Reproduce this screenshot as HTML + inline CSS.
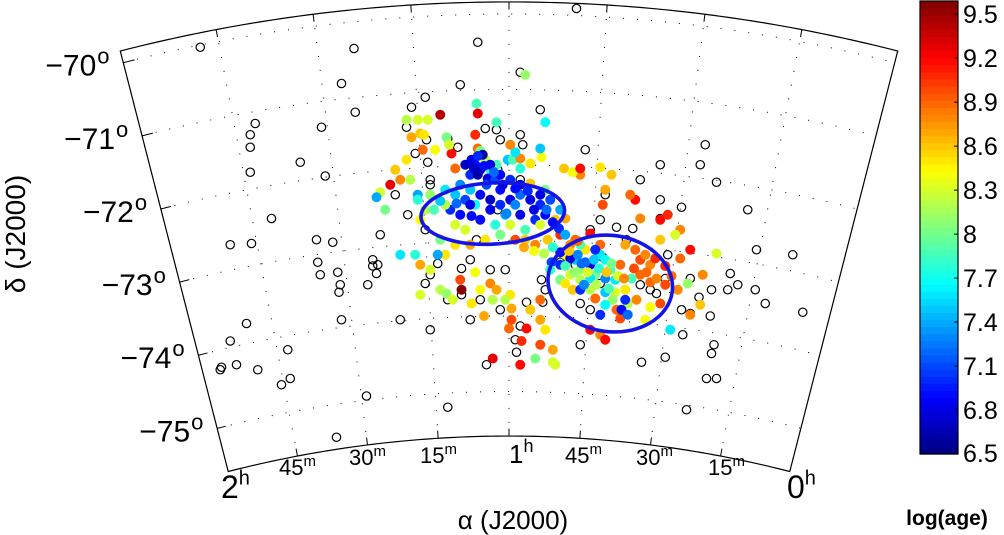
<!DOCTYPE html>
<html><head><meta charset="utf-8">
<style>
html,body{margin:0;padding:0;background:#fff;}
svg{display:block;font-family:"Liberation Sans",sans-serif;}
</style></head>
<body>
<svg id="chart" width="1004" height="535" viewBox="0 0 1004 535" xmlns="http://www.w3.org/2000/svg">
<rect width="1004" height="535" fill="#fff"/>
<g id="grid"></g>
<g id="frame"></g>
<g id="open"></g>
<g id="filled"></g>
<g id="ellipses"></g>
<g id="labels"></g>
<g id="cbar"></g>
</svg>
<script>
// ---- data: offsets in arcmin from field centre (xi east-west, eta north-south) ----
const openXi=[-247,-124,54,-25,-134,-123,-203,-207,-207,-207,-167,-150,-147,-190,-206,-223,-154,-141,-153,-137,-109,-109,-106,-113,-135,-136,-151,-134,-87,-210,-223,-218,-230,-231,-201,-177,-175,-182,-138,-114,-49,-18,9,-78,-67,-39,-7,9,25,11,-9,-39,-81,-67,-26,61,77,65,99,105,121,138,153,157,166,191,198,227,183,127,125,145,152,162,177,175,197,205,138,145,118,113,93,105,75,41,53,73,57,125,139,161,162,164,158,166,142,106,235,-31,-23,-7,5,9,6,-3,-15,-31,-38,-38,-67,-63,-57,-49,-63,14,29,26,27,57,65,-91,-103,-105,-63,-49,-66,-82,-75,-65,-63,-41,-19,-10,-9,9,41,73,121,86,94,121];
const openEta=[135,134,166,139,106,83,74,65,55,35,43,71,32,-2,-22,-23,-19,-21,-37,-45,-35,-40,-46,-55,-55,-61,-47,-83,-83,-86,-100,-119,-121,-123,-123,-107,-130,-135,-177,-144,-153,-119,115,87,95,105,61,65,85,57,5,1,1,-11,-19,53,17,-11,-10,29,13,7,41,57,27,5,-27,-31,-55,-31,-50,-50,-65,-59,-46,-59,-59,-70,-75,-78,-62,-59,-59,-55,-33,-37,-39,-54,-103,-113,-95,-80,-110,-103,-130,-130,-155,-117,-77,-83,-67,-75,-99,-88,-109,-43,-43,-35,-42,-63,-54,-47,-38,-67,-91,-69,-59,-51,-69,-70,-75,17,-15,-39,25,62,61,71,50,43,29,55,70,69,37,29,5,-3,41,-9,-19,-2];
const ageXi=[-82,-73,-65,-78,-71,-68,-50,-59,-69,-46,-43,-31,-25,-27,-25,-10,29,13,-26,-48,-23,-19,-15,-10,-1,3,26,9,17,25,17,44,9,5,1,
-27,-23,-15,-31,-17,-11,-7,1,9,-39,-31,-23,-15,-7,1,9,17,25,33,29,21,9,-3,-15,-27,-35,-43,-51,-47,-23,-11,1,13,25,37,41,29,-51,-43,-35,-63,-67,-71,-73,-73,-19,-7,5,13,21,31,41,53,-31,-43,-51,-55,-57,-75,-87,-71,-63,-55,-39,-27,-23,-15,-10,-13,1,2,2,17,25,29,14,25,-38,-50,-3,
41,45,53,57,65,73,69,77,61,49,49,41,81,89,85,73,93,101,105,109,113,117,105,98,113,93,85,77,69,65,51,45,57,83,89,86,77,73,95,102,113,109,121,125,135,143,145,153,155,137,137,121,105,101,75,77,57,51,57,73,82,127,145,166,121,133,129,73,65,77,35,25,9,-13,21,37,-45,-71,-95,-103,-106,-99,-87,-91,-79,-82,-55,35,65,45,97,
49,61,69,55,65,41,34,33,57,77,57,93,90,95,-25,-7,5,-31,-39,25,-35,-21,
-30,-25,-20,-28,-12,-18,-5,5,15,20,-2,-30,-42,-55,-60,30,35,40,45,35,28,20,12,
45,52,58,63,68,72,78,82,87,60,70,80,92,100,110,118,125,130,48,55,0,10,-20,-30];
const ageEta=[77,77,77,63,66,65,63,53,53,50,38,42,54,65,82,75,75,113,90,57,52,45,37,41,45,45,47,38,42,54,26,38,46,51,57,
41,37,41,33,30,29,33,29,25,25,21,17,13,9,13,17,13,9,13,1,-3,1,1,5,9,13,17,21,5,-3,-7,-7,-11,-7,-3,5,21,9,-7,-11,17,5,-3,17,13,-19,-15,-19,-19,-23,-19,-15,-19,-23,-23,-31,-19,-31,-31,-31,-39,-43,-59,-51,-45,-59,-54,-59,-67,-63,-74,-83,-75,-83,-91,-90,-67,-59,-62,-67,
-39,-31,-35,-43,-39,-31,-47,-35,-27,-23,-47,-51,-43,-39,-51,-23,-23,-27,-35,-31,-39,-34,-47,-50,-53,-59,-61,-61,-66,-59,-59,-54,-51,-67,-82,-75,-71,-79,-70,-67,-73,-83,-70,-55,-59,-54,-79,-71,-47,-34,-11,-3,-2,13,9,21,33,35,38,39,33,1,-27,-30,-19,-15,-91,-95,-91,-99,-107,-103,-119,-114,-114,-119,-67,-63,25,19,15,5,29,37,29,45,81,-117,-14,-2,17,
-34,-37,-27,-31,-50,-29,-37,-43,-23,-50,-59,-67,-75,-79,33,21,9,9,1,17,41,49,
45,48,40,38,35,25,25,22,20,5,2,0,10,12,5,5,-5,-10,-15,-25,-30,-28,-25,
-40,-45,-38,-45,-35,-42,-45,-38,-48,-55,-55,-58,-50,-42,-45,-50,-40,-48,-28,-20,-90,-100,-80,-70];
const logAge=[8.2,8.3,8.3,8.7,8.6,8.5,8.0,8.4,8.9,9.2,8.9,8.3,8.9,9.1,9.3,7.9,7.7,8.1,7.9,8.3,8.0,8.2,7.8,7.9,7.5,7.9,8.4,7.8,8.5,7.5,8.6,8.6,8.8,7.6,8.8,
6.9,6.7,6.8,7.0,6.8,7.1,6.9,7.0,6.8,7.3,7.5,6.9,6.7,7.0,6.8,7.2,6.8,7.0,7.1,6.9,7.0,6.8,7.4,6.8,7.7,7.1,7.5,7.6,7.0,6.9,7.8,8.3,7.9,8.3,8.6,7.4,8.0,8.2,8.3,8.3,8.1,8.2,8.4,7.4,7.8,8.5,8.0,9.0,8.6,8.8,8.6,9.1,8.9,8.7,8.5,8.5,8.0,7.4,7.8,7.6,8.7,8.3,8.2,9.0,8.4,8.4,8.8,8.7,8.2,8.5,8.7,9.0,8.6,8.7,8.5,9.2,8.9,9.7,8.1,8.2,
7.0,8.4,7.5,8.1,6.8,7.6,8.0,7.7,8.5,8.8,8.3,8.0,7.9,8.9,7.6,8.9,8.7,8.9,9.0,8.8,8.8,9.1,8.9,7.9,8.9,8.5,8.3,7.5,8.9,8.2,8.6,8.5,8.2,8.1,9.0,8.9,7.7,7.0,8.2,8.8,8.4,8.4,9.0,9.0,8.8,8.1,8.8,8.6,8.8,8.9,8.8,9.2,8.8,9.2,9.0,8.7,8.8,8.4,9.2,8.5,8.6,9.1,9.2,8.3,8.6,8.3,7.6,8.8,9.2,9.2,8.7,9.0,9.2,9.3,8.0,8.3,8.3,8.3,9.3,8.3,7.4,8.0,8.8,8.6,8.2,8.5,9.4,8.3,9.2,8.7,8.9,
6.8,7.2,7.0,7.3,7.6,6.9,7.1,7.8,7.9,7.3,7.0,7.0,6.9,7.2,6.6,6.9,7.3,6.8,6.9,6.8,6.7,6.6,
6.8,7.0,6.9,6.7,7.2,7.1,6.8,6.9,7.0,6.8,7.3,6.9,7.2,7.5,7.9,7.2,6.9,7.0,7.4,7.8,8.2,8.4,8.7,
7.9,8.1,7.2,8.3,7.5,7.8,8.6,8.0,8.3,7.3,8.2,7.9,8.8,9.0,8.9,8.8,9.1,8.9,8.6,8.9,8.9,9.1,8.7,8.5];
// ellipses (arcmin)
const ellXi=[-13,81], ellEta=[2,-54], ellA=[57.5,50], ellB=[24.5,38.5], ellAng=[-3,8];
// axis ticks
const decTicks=[-70,-71,-72,-73,-74,-75];
const raGrid=[2,1.75,1.5,1.25,1,0.75,0.5,0.25,0];
const cbTicks=[6.5,6.8,7.1,7.4,7.7,8,8.3,8.6,8.9,9.2,9.5];
const cbMin=6.5, cbMax=9.59;

const NS="http://www.w3.org/2000/svg";
function mk(tag,attrs,parent){const e=document.createElementNS(NS,tag);for(const k in attrs)e.setAttribute(k,attrs[k]);parent.appendChild(e);return e;}
const CX=509, CY=1565, DEG=Math.PI/180, DEC_TOP=-69.84, DEC_BOT=-75.59;
function rad(dec){return 1551+(dec+70)*75.5;}
function proj(ra,dec){const R=rad(dec), th=(1-ra)*14.4*DEG;return [CX+R*Math.sin(th), CY-R*Math.cos(th)];}
const PX=1.25, X0=509, Y0=216;
function sx(xi){return X0+xi*PX;}
function sy(eta){return Y0-eta*PX;}
function jet(v){let t=(v-cbMin)/(cbMax-cbMin);t=Math.max(0,Math.min(1,t));t=(Math.floor(t*63.999)+0.5)/64;
 const c=x=>Math.round(255*Math.max(0,Math.min(1,x)));
 return `rgb(${c(1.5-Math.abs(4*t-3))},${c(1.5-Math.abs(4*t-2))},${c(1.5-Math.abs(4*t-1))})`;}

const grid=document.getElementById('grid');
decTicks.forEach(d=>{let pts=[];for(let i=0;i<=80;i++){pts.push(proj(2-2*i/80,d).join(','));}
 const l=mk('polyline',{points:pts.join(' '),fill:'none',stroke:'#000','stroke-width':1,'stroke-dasharray':'1 13'},grid);
 
 });
raGrid.forEach(r=>{const a=proj(r,DEC_TOP),b=proj(r,DEC_BOT);
 const l=mk('line',{x1:a[0],y1:a[1],x2:b[0],y2:b[1],stroke:'#000','stroke-width':1,'stroke-dasharray':'1 13'},grid);
 
 });

const frame=document.getElementById('frame');
let fp=[];for(let i=0;i<=100;i++)fp.push(proj(2-2*i/100,DEC_TOP));for(let i=0;i<=100;i++)fp.push(proj(2*i/100,DEC_BOT));
const fr=mk('polygon',{points:fp.map(p=>p.join(',')).join(' '),fill:'none',stroke:'#000','stroke-width':1.2},frame);


decTicks.forEach(d=>{const a=proj(2,d),b=proj(1.97,d);
 const t=mk('line',{x1:a[0],y1:a[1],x2:b[0],y2:b[1],stroke:'#000','stroke-width':1},frame);
 
 });
raGrid.slice(1,-1).forEach(r=>{[DEC_TOP,DEC_BOT].forEach(d=>{const a=proj(r,d),b=proj(r,d+(d===DEC_TOP?-0.1:0.1));
 const t=mk('line',{x1:a[0],y1:a[1],x2:b[0],y2:b[1],stroke:'#000','stroke-width':1},frame);
 
 });});

const og=document.getElementById('open');
openXi.forEach((x,i)=>{const c=mk('circle',{cx:sx(x),cy:sy(openEta[i]),r:4.2,fill:'none',stroke:'#000','stroke-width':1.2},og);
 
 });
const fg=document.getElementById('filled');
ageXi.forEach((x,i)=>{const c=mk('circle',{cx:sx(x),cy:sy(ageEta[i]),r:5,fill:jet(logAge[i])},fg);
 
 });
const eg=document.getElementById('ellipses');
ellXi.forEach((x,i)=>{const cx=sx(x),cy=sy(ellEta[i]);
 const e=mk('ellipse',{cx:cx,cy:cy,rx:ellA[i]*PX,ry:ellB[i]*PX,fill:'none',stroke:'#1414e6','stroke-width':3.6,transform:`rotate(${ellAng[i]} ${cx} ${cy})`},eg);
 
 });

const lg=document.getElementById('labels');
decTicks.forEach(d=>{const p=proj(2,d);
 const t=mk('text',{x:p[0]-27,y:p[1]+13,'font-size':30,'text-anchor':'end'},lg);t.textContent='\u2212'+Math.abs(d);
 
 
 const o=mk('text',{x:p[0]-26,y:p[1]+1,'font-size':22},lg);o.textContent='o';
 
 });
const raLab=[['2','h',221,498,32,20],['45','m',279,475,22,15],['30','m',349,465,22,15],['15','m',420,463,22,15],['1','h',509,463,26,18],['45','m',565,463,22,15],['30','m',636,465,22,15],['15','m',708,475,22,15],['0','h',787,498,32,20]];
raLab.forEach(l=>{const t=mk('text',{x:l[2],y:l[3],'font-size':l[4]},lg);
 
 
 const a=mk('tspan',{},t);a.textContent=l[0];
 const b=mk('tspan',{'font-size':l[5],dy:-l[4]*0.42},t);b.textContent=l[1];});
const xt=mk('text',{x:513,y:529,'font-size':26,'text-anchor':'middle'},lg);xt.textContent='\u03b1 (J2000)';


const yt=mk('text',{x:0,y:0,'font-size':28,'text-anchor':'middle',transform:'translate(25,234) rotate(-90)'},lg);yt.textContent='\u03b4 (J2000)';



const cb=document.getElementById('cbar');
const CBX=920,CBW=38,CBT=1,CBB=454;
function cy2(v){return CBB-(v-cbMin)/(cbMax-cbMin)*(CBB-CBT);}
for(let i=0;i<64;i++){const v0=cbMin+(cbMax-cbMin)*i/64,v1=cbMin+(cbMax-cbMin)*(i+1)/64;
 const r=mk('rect',{x:CBX,y:cy2(v1),width:CBW,height:cy2(v0)-cy2(v1)+0.6,fill:jet((v0+v1)/2)},cb);
 
 }
const cbo=mk('rect',{x:CBX,y:CBT,width:CBW,height:CBB-CBT,fill:'none',stroke:'#000','stroke-width':1.2},cb);


cbTicks.forEach(v=>{const y=cy2(v);
 const tk=mk('line',{x1:CBX+CBW-4,y1:y,x2:CBX+CBW,y2:y,stroke:'#000','stroke-width':1},cb);
 
 
 const t=mk('text',{x:963,y:Math.min(y+9,462),'font-size':25},cb);t.textContent=String(v);
 
 });
const ct=mk('text',{x:947,y:525,'font-size':21,'font-weight':'bold','text-anchor':'middle'},cb);ct.textContent='log(age)';


</script>
</body></html>
